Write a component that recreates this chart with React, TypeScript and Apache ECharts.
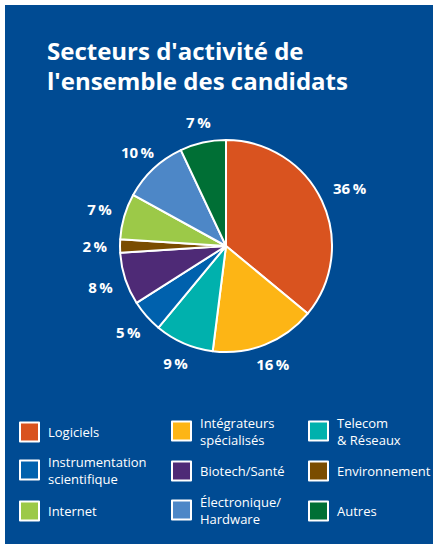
import React, { useEffect, useRef } from "react";
import * as echarts from "echarts";

const categories = [
  "Logiciels",
  "Intégrateurs spécialisés",
  "Telecom & Réseaux",
  "Instrumentation scientifique",
  "Biotech/Santé",
  "Environnement",
  "Internet",
  "Électronique/Hardware",
  "Autres",
];
const legendLabels = [
  "Logiciels",
  "Intégrateurs\nspécialisés",
  "Telecom\n& Réseaux",
  "Instrumentation\nscientifique",
  "Biotech/Santé",
  "Environnement",
  "Internet",
  "Électronique/\nHardware",
  "Autres",
];
const values = [36, 16, 9, 5, 8, 2, 7, 10, 7];
const colors = [
  "#D9531F",
  "#FDB515",
  "#00B1AD",
  "#0061AD",
  "#4E2A76",
  "#7A4C00",
  "#9CC948",
  "#4D87C7",
  "#006F35",
];
const titleText = "Secteurs d'activité de\nl'ensemble des candidats";

const FONT = "'Open Sans', 'Noto Sans', sans-serif";
const colX = [19, 171, 308];
const rowCenter = [431, 470, 510];
const ICON = 19;
const LINE_H = 17;
const CX = 226;
const CY = 246;
const RADIUS = 106;
const LABEL_GAP = 13;

export default function App() {
  const ref = useRef<HTMLDivElement>(null);
  useEffect(() => {
    if (!ref.current) return;
    const chart = echarts.init(ref.current, undefined, { renderer: "svg" });
    const total = values.reduce((a, b) => a + b, 0);
    const midAngles: number[] = [];
    let cum = 0;
    values.forEach((v) => {
      const frac = (cum + v / 2) / total;
      midAngles.push(Math.PI / 2 - frac * 2 * Math.PI);
      cum += v;
    });
    const legends = categories.map((name, i) => {
      const lines = legendLabels[i].split("\n").length;
      const h = Math.max(ICON, lines * LINE_H);
      return {
        data: [name],
        left: colX[i % 3],
        top: rowCenter[Math.floor(i / 3)] - h / 2,
        padding: 0,
        orient: "vertical",
        icon: "rect",
        itemWidth: ICON,
        itemHeight: ICON,
        selectedMode: false,
        formatter: () => legendLabels[i],
        itemStyle: { borderColor: "#ffffff", borderWidth: 2 },
        textStyle: {
          color: "#ffffff",
          fontFamily: FONT,
          fontSize: 13,
          lineHeight: LINE_H,
          padding: [0, 0, 0, 4],
        },
      };
    });
    chart.setOption({
      animation: false,
      graphic: [
        {
          type: "rect",
          z: -10,
          silent: true,
          shape: { x: 5, y: 5, width: 428, height: 539 },
          style: { fill: "#004B93" },
        },
      ],
      title: {
        text: titleText,
        left: 42,
        top: 30,
        textStyle: {
          color: "#ffffff",
          fontFamily: FONT,
          fontWeight: 700,
          fontSize: 24,
          lineHeight: 30,
        },
      },
      legend: legends,
      series: [
        {
          type: "pie",
          center: [CX, CY],
          radius: RADIUS,
          startAngle: 90,
          clockwise: true,
          color: colors,
          itemStyle: { borderColor: "#ffffff", borderWidth: 2 },
          label: {
            show: true,
            position: "outside",
            formatter: (p: any) => `${p.value}\u2009%`,
            color: "#ffffff",
            fontFamily: FONT,
            fontWeight: 700,
            fontSize: 15,
          },
          labelLine: { show: false, length: 13, length2: 0 },
          labelLayout: (params: any) => {
            const a = midAngles[params.dataIndex];
            const c = Math.cos(a);
            const s = Math.sin(a);
            const hw = params.labelRect.width / 2;
            const hh = params.labelRect.height / 2;
            const edge = Math.min(
              Math.abs(c) > 1e-6 ? hw / Math.abs(c) : Infinity,
              Math.abs(s) > 1e-6 ? hh / Math.abs(s) : Infinity
            );
            const d = RADIUS + LABEL_GAP + edge;
            return {
              x: CX + d * c,
              y: CY - d * s,
              align: "center",
              verticalAlign: "middle",
            };
          },
          emphasis: { disabled: true },
          data: categories.map((name, i) => ({ name, value: values[i] })),
        },
      ],
    });
    return () => chart.dispose();
  }, []);
  return (
    <div
      ref={ref}
      style={{ position: "fixed", left: 0, top: 0, width: 433, height: 544, background: "#ffffff" }}
    />
  );
}
